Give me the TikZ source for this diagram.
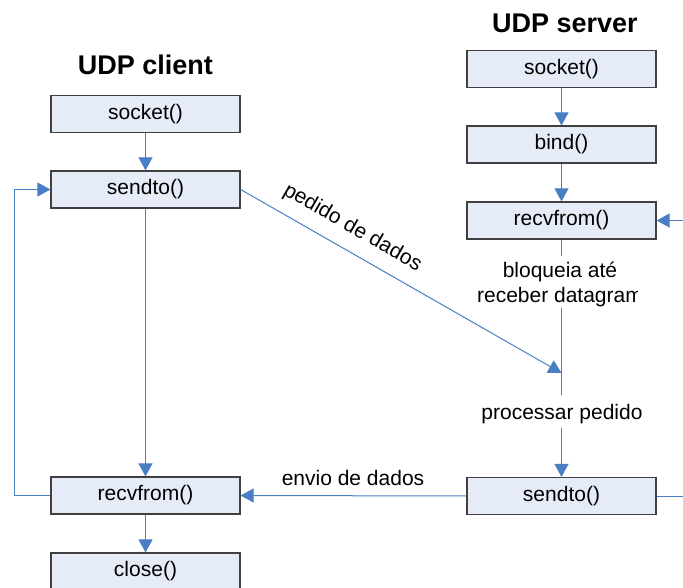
\documentclass[tikz,border=0pt]{standalone}
\usepackage{fontspec}
\setmainfont{Liberation Sans}
\usetikzlibrary{arrows.meta}
\definecolor{boxfill}{HTML}{E6ECF7}
\definecolor{boxline}{HTML}{404040}
\definecolor{flowblue}{HTML}{4A7EC4}
\tikzset{
  callbox/.style={draw=boxline, line width=1.2pt, fill=boxfill,
    minimum width=189pt, minimum height=37pt, inner sep=0pt,
    font=\fontsize{21}{25}\selectfont},
  flow/.style={draw=flowblue, line width=1pt},
  flowarrow/.style={flow, -{Triangle[length=13pt,width=14pt]}},
  title/.style={anchor=base, font=\fontsize{27}{32}\selectfont\bfseries},
  note/.style={anchor=base, inner sep=0pt, font=\fontsize{21}{25}\selectfont}
}
\begin{document}
\begin{tikzpicture}[x=1pt,y=-1pt]
\clip (0,0) rectangle (683,588);
\fill[white] (0,0) rectangle (683,588);

% titles
\node[title] (tc) at (145.5,75) {UDP client};
\node[title] (ts) at (565,33) {UDP server};

% client calls
\node[callbox] (sockC) at (145.5,114) {socket()};
\node[callbox] (sendC) at (145.5,189.5) {sendto()};
\node[callbox] (recvC) at (145.5,495.5) {recvfrom()};
\node[callbox] (closeC) at (145.5,571.5) {close()};

% server calls
\node[callbox] (sockS) at (561.5,69) {socket()};
\node[callbox] (bindS) at (561.5,144.5) {bind()};
\node[callbox] (recvS) at (561.5,220.5) {recvfrom()};
\node[callbox] (sendS) at (561.5,496) {sendto()};

% client flow
\draw[flowarrow] (sockC) -- (sendC);
\draw[flowarrow] (sendC) -- (recvC);
\draw[flowarrow] (recvC) -- (closeC);
\draw[flowarrow] (recvC.west) -- ++(-36,0) |- (sendC.west);

% server flow
\draw[flowarrow] (sockS) -- (bindS);
\draw[flowarrow] (bindS) -- (recvS);
\coordinate (inR) at (683,220.5);
\coordinate (outR) at (683,496);
\draw[flowarrow] (inR) -- (recvS.east);
\draw[flow] (sendS.east) -- (outR);

\coordinate (gapA) at (561.5,256);
\coordinate (gapB) at (561.5,308);
\coordinate (hit) at (561.5,373);
\coordinate (gapC) at (561.5,395);
\coordinate (gapD) at (561.5,428);
\draw[flow] (recvS.south) -- (gapA);
\draw[flow] (gapB) -- (gapC);
\draw[flowarrow] (gapD) -- (sendS.north);

\node[note] (bloq) at (560,277) {bloqueia até};
\begin{scope}
  \clip (450,280) rectangle (637,310);
  \node[note] (receb) at (560,302) {receber datagram};
\end{scope}
\node[note] (proc) at (562,419) {processar pedido};

% messages between client and server
\draw[flowarrow] (sendC.east) -- (hit);
\node[inner sep=0pt, rotate=-29.8, font=\fontsize{21}{25}\selectfont] (ped) at (352.5,228) {pedido de dados};
\draw[flowarrow] (sendS.west) -- (recvC.east);
\node[note] (envio) at (353,485) {envio de dados};
\end{tikzpicture}
\end{document}
